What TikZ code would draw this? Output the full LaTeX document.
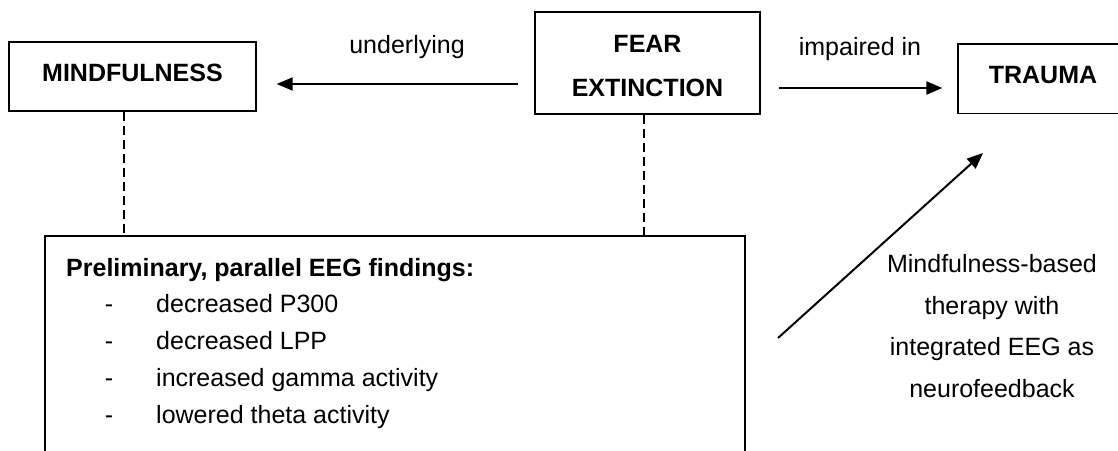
\documentclass[tikz,border=0pt]{standalone}
\usepackage{fontspec}
\setmainfont{Liberation Sans}
\usetikzlibrary{arrows.meta}
\begin{document}
\begin{tikzpicture}[x=1pt,y=-1pt,
  box/.style={draw=black, line width=1.2pt, inner sep=0pt, align=center,
    font=\fontsize{25}{44}\selectfont\bfseries},
  lbl/.style={inner sep=0pt, font=\fontsize{25}{30}\selectfont},
  conn/.style={line width=2pt, -{Triangle[length=16pt,width=13pt]}},
  dashln/.style={line width=2pt, dash pattern=on 9pt off 5pt}
]
\useasboundingbox (0,0) rectangle (1118,450);
\clip (0,0) rectangle (1118,450);

% boxes
\node[box, minimum width=247pt, minimum height=69pt, text depth=7pt] (mind) at (132.5,76.5) {MINDFULNESS};
\node[box, minimum width=225pt, minimum height=102pt] (fear) at (647.5,63) {\rule{0pt}{23pt}FEAR\\EXTINCTION};
\node[box, minimum width=170pt, minimum height=69.5pt, text depth=7pt] (trauma) at (1043,78.75) {TRAUMA};
\node[box, minimum width=700pt, minimum height=250pt] (find) at (395,361) {};

% findings text
\node[lbl, anchor=base west, font=\fontsize{25}{30}\selectfont\bfseries] (head) at (66,276) {Preliminary, parallel EEG findings:};
\node[lbl, anchor=base] (d1) at (109,312) {-};
\node[lbl, anchor=base west] (t1) at (156,312) {decreased P300};
\node[lbl, anchor=base] (d2) at (109,349) {-};
\node[lbl, anchor=base west] (t2) at (156,349) {decreased LPP};
\node[lbl, anchor=base] (d3) at (109,386) {-};
\node[lbl, anchor=base west] (t3) at (156,386) {increased gamma activity};
\node[lbl, anchor=base] (d4) at (109,423) {-};
\node[lbl, anchor=base west] (t4) at (156,423) {lowered theta activity};

% labels
\node[lbl, anchor=base] (under) at (407,53) {underlying};
\node[lbl, anchor=base] (imp) at (860,55) {impaired in};
\node[lbl, anchor=north, align=center, font=\fontsize{25}{41.5}\selectfont] (ther) at (992,254.5)
  {Mindfulness-based\\therapy with\\integrated EEG as\\neurofeedback};

% connectors
\draw[conn, shorten <=16pt, shorten >=20pt] ([yshift=-21pt]fear.west) -- ([yshift=-7.5pt]mind.east);
\draw[conn, shorten <=18pt, shorten >=15pt] ([yshift=-25pt]fear.east) -- ([yshift=-9.25pt]trauma.west);
\draw[dashln] ([xshift=-8.5pt]mind.south) -- ([xshift=-8.5pt]mind.south |- find.north);
\draw[dashln] ([xshift=-3.5pt]fear.south) -- ([xshift=-3.5pt]fear.south |- find.north);

\coordinate (dstart) at (778,338);
\coordinate (dend) at (983,153);
\draw[conn] (dstart) -- (dend);
\end{tikzpicture}
\end{document}
